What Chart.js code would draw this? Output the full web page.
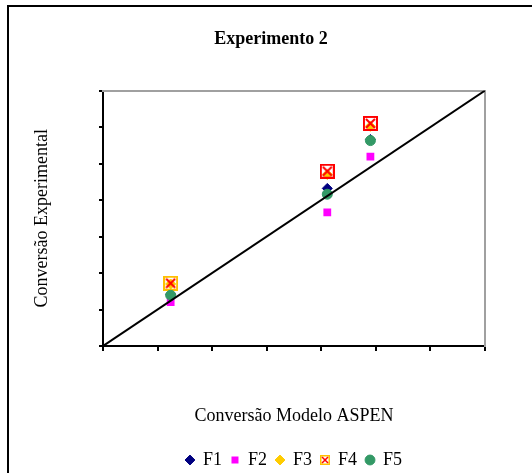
<!DOCTYPE html>
<html>
<head>
<meta charset="utf-8">
<style>
  html, body { margin: 0; padding: 0; background: #fff; }
  canvas { display: block; }
</style>
<script src="https://cdn.jsdelivr.net/npm/chart.js@4"></script>
</head>
<body>
<canvas id="grafico" width="532" height="473"></canvas>
<script>
// grupos de conversão (modelo ASPEN, eixo x)
const modelo = [12.4, 41.1, 49.0];
// conversão experimental por série
const f1 = [14.2, 43.2, 56.6];
const f2 = [12.0, 36.6, 51.9];
const f3 = [17.0, 47.0, 60.2];
const f4 = [17.2, 47.9, 61.0];
const f5 = [13.9, 41.6, 56.3];
const nomes = ["F1", "F2", "F3", "F4", "F5"];
const diagonal = [0, 70];

function pares(xs, ys) {
  return xs.map((x, i) => ({ x: x, y: ys[i] }));
}

// quadrado com X vermelho (marcador do F4)
function caixaX(tam, borda, lw, m) {
  let c = document.createElement("canvas");
  c.width = tam;
  c.height = tam;
  let g = c.getContext("2d");
  g.lineWidth = lw;
  g.strokeStyle = borda;
  g.strokeRect(lw / 2, lw / 2, tam - lw, tam - lw);
  g.strokeStyle = "#ff0000";
  g.lineWidth = lw;
  g.beginPath();
  g.moveTo(m, m); g.lineTo(tam - m, tam - m);
  g.moveTo(tam - m, m); g.lineTo(m, tam - m);
  g.stroke();
  return c;
}
const f4Amarelo = caixaX(15, "#ffc000", 2, 3);
const f4Vermelho = caixaX(15, "#ff0000", 2, 3);
const f4Legenda = caixaX(10, "#ffc000", 1.5, 2);

const moldura = {
  id: "moldura",
  beforeDraw(chart) {
    let ctx = chart.ctx;
    ctx.save();
    ctx.fillStyle = "#fff";
    ctx.fillRect(0, 0, chart.width, chart.height);
    ctx.strokeStyle = "#000";
    ctx.lineWidth = 2;
    ctx.beginPath();
    ctx.moveTo(8, chart.height + 2);
    ctx.lineTo(8, 6);
    ctx.lineTo(chart.width + 2, 6);
    ctx.stroke();
    ctx.restore();
  }
};

Chart.defaults.font.family = "'Liberation Serif', 'Times New Roman', serif";
Chart.defaults.color = "#000";

let ctx = document.getElementById("grafico").getContext("2d");
new Chart(ctx, {
  type: "scatter",
  data: {
    datasets: [
      { label: nomes[0], data: pares(modelo, f1), order: 5, pointStyle: "rectRot", pointRadius: 5,
        backgroundColor: "#000080", borderColor: "#000080", borderWidth: 1 },
      { label: nomes[1], data: pares(modelo, f2), order: 4, pointStyle: "rect", pointRadius: 5.5,
        backgroundColor: "#ff00ff", borderColor: "#ff00ff", borderWidth: 0 },
      { label: nomes[2], data: pares(modelo, f3), order: 3, pointStyle: "rectRot", pointRadius: 5,
        backgroundColor: "#ffcc00", borderColor: "#ffcc00", borderWidth: 1 },
      { label: nomes[3], data: pares(modelo, f4), order: 2,
        pointStyle: [f4Amarelo, f4Vermelho, f4Vermelho],
        backgroundColor: "#ff0000", borderColor: "#ff0000" },
      { label: nomes[4], data: pares(modelo, f5), order: 1, pointStyle: "circle", pointRadius: 5,
        backgroundColor: "#339966", borderColor: "#339966", borderWidth: 1 },
      { label: "", data: pares(diagonal, diagonal), order: 0, showLine: true, pointRadius: 0,
        borderColor: "#000", borderWidth: 2 }
    ]
  },
  options: {
    responsive: false,
    animation: false,
    layout: { padding: { left: 10, right: 0, top: 29, bottom: -6 } },
    scales: {
      x: {
        type: "linear", position: "bottom", min: 0, max: 70,
        ticks: { display: false, stepSize: 10 },
        grid: { drawOnChartArea: false, drawTicks: true, tickLength: 5, color: "#000", lineWidth: 2 },
        border: { display: true, color: "#000", width: 2 },
        title: { display: true, text: "Conversão Modelo ASPEN", font: { size: 18 }, padding: { top: 4, bottom: 15 } },
        afterFit: s => { s.height = 96; }
      },
      y: {
        type: "linear", position: "left", min: 0, max: 70,
        ticks: { display: false, stepSize: 10 },
        grid: { drawOnChartArea: false, drawTicks: true, tickLength: 4, color: "#000", lineWidth: 2 },
        border: { display: true, color: "#000", width: 2 },
        title: { display: true, text: "Conversão Experimental", font: { size: 18 }, padding: { top: 21, bottom: 4 } },
        afterFit: s => { s.width = 93; }
      },
      x2: {
        type: "linear", position: "top", display: true, min: 0, max: 70,
        ticks: { display: false }, grid: { display: false },
        border: { display: true, color: "#a0a0a0", width: 2 },
        afterFit: s => { s.height = 0; }
      },
      y2: {
        type: "linear", position: "right", display: true, min: 0, max: 70,
        ticks: { display: false }, grid: { display: false },
        border: { display: true, color: "#a0a0a0", width: 2 },
        afterFit: s => { s.width = 47; }
      }
    },
    plugins: {
      title: {
        display: true,
        text: "Experimento 2",
        font: { size: 18, weight: "bold" },
        padding: { top: 0, bottom: 40 }
      },
      legend: {
        position: "bottom",
        fullSize: false,
        labels: {
          usePointStyle: true,
          boxWidth: 8,
          boxHeight: 7,
          padding: 9,
          font: { size: 18 },
          filter: item => item.text !== "",
          sort: (a, b) => a.datasetIndex - b.datasetIndex,
          generateLabels: chart => {
            let itens = Chart.defaults.plugins.legend.labels.generateLabels(chart);
            itens.forEach(it => { if (it.text === "F4") it.pointStyle = f4Legenda; });
            return itens;
          }
        }
      },
      tooltip: { enabled: false }
    }
  },
  plugins: [moldura]
});
</script>
</body>
</html>
